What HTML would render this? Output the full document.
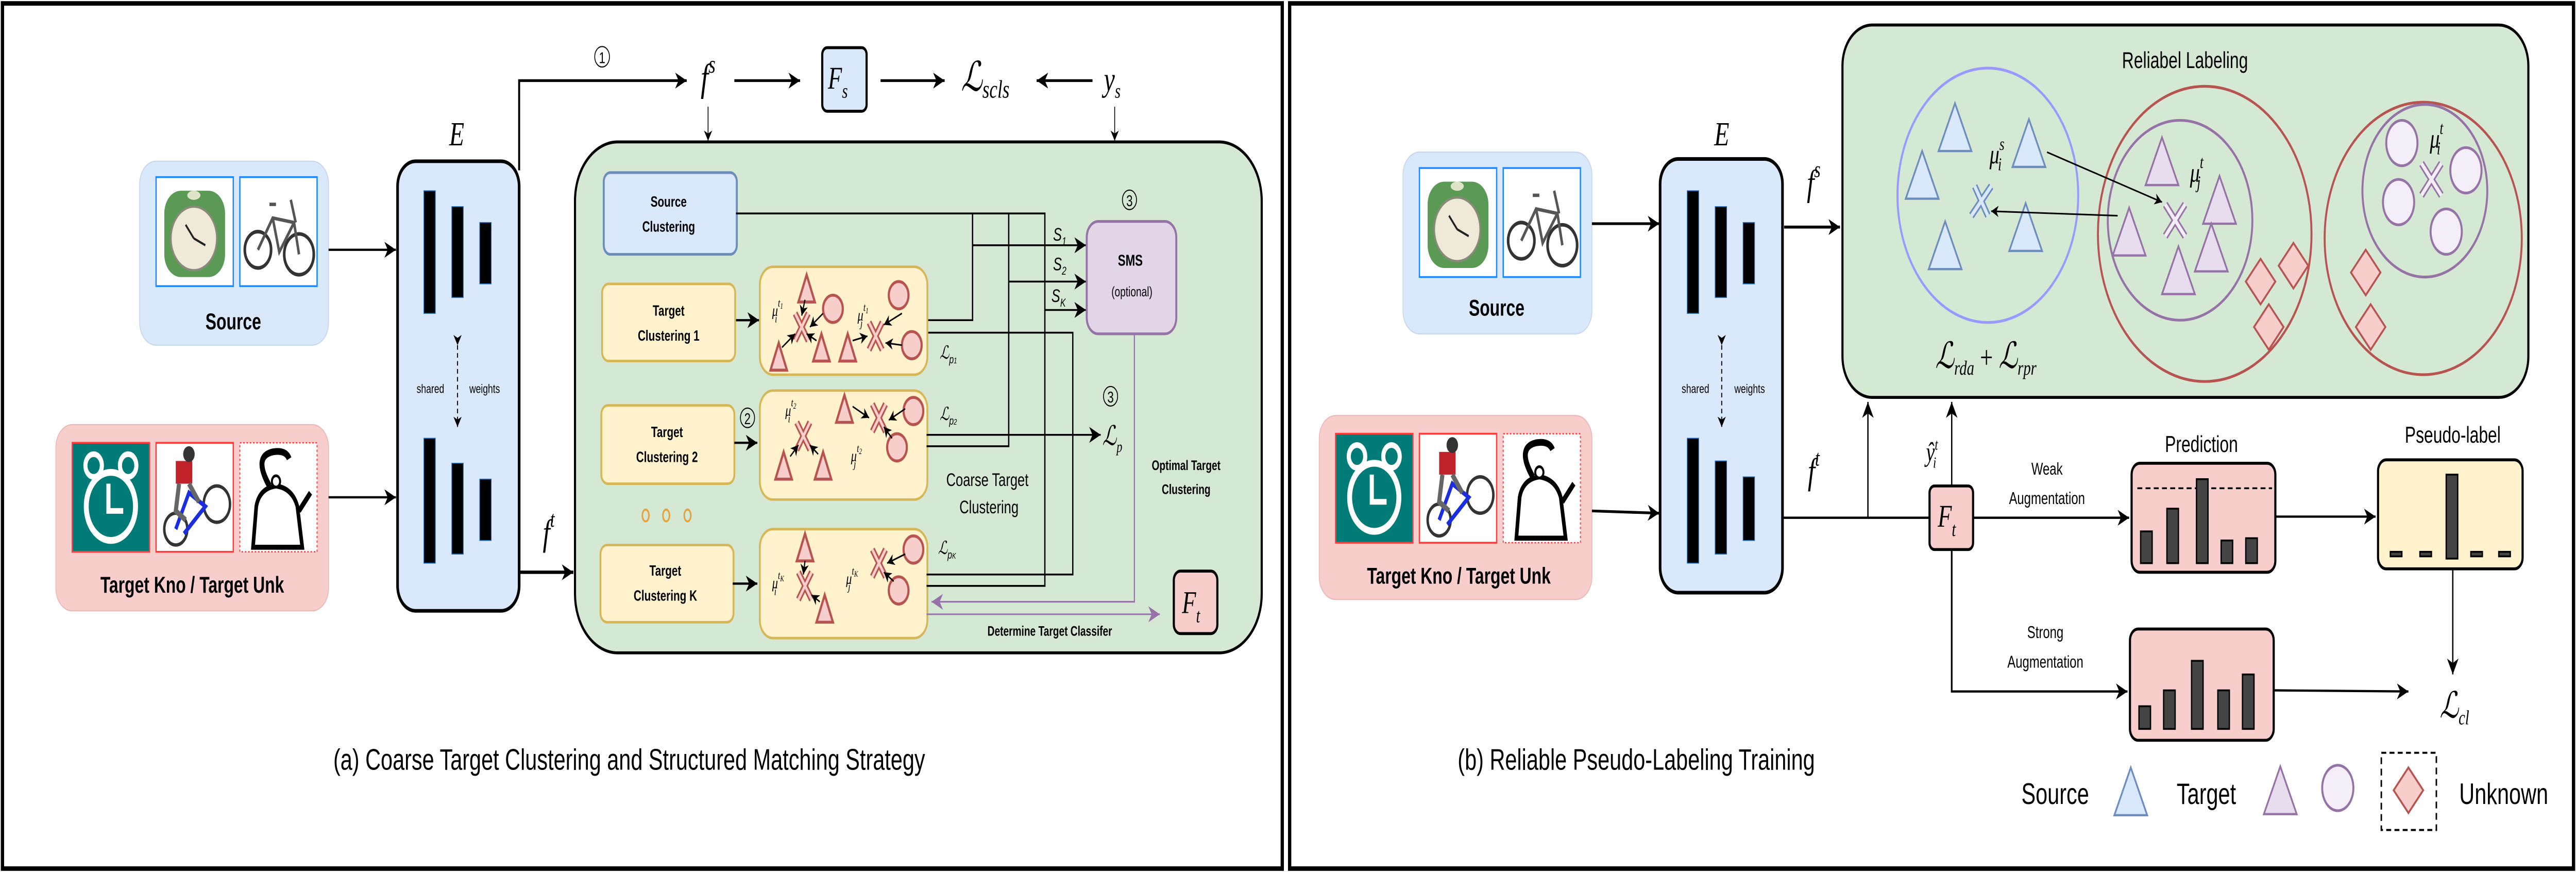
<!DOCTYPE html>
<html><head><meta charset="utf-8"><style>
html,body{margin:0;padding:0;background:#fff;width:100vw;height:100vh;overflow:hidden;}
svg{display:block;position:absolute;left:0;top:0;width:100vw;height:100vh;}
text{font-family:"Liberation Sans",sans-serif;}
.m{font-family:"Liberation Serif",serif;font-style:italic;}
</style></head><body>
<svg viewBox="0 0 1568 384" preserveAspectRatio="none" xmlns="http://www.w3.org/2000/svg">
<defs>
<marker id="a" markerUnits="userSpaceOnUse" markerWidth="8" markerHeight="8" refX="7" refY="4" orient="auto"><path d="M0,0.5 L7,4 L0,7.5 L2,4 Z" fill="#000"/></marker>
<marker id="as" markerUnits="userSpaceOnUse" markerWidth="5" markerHeight="5" refX="4.5" refY="2.5" orient="auto"><path d="M0,0 L4.5,2.5 L0,5 L1.3,2.5 Z" fill="#000"/></marker>
<marker id="ap" markerUnits="userSpaceOnUse" markerWidth="8" markerHeight="8" refX="7" refY="4" orient="auto"><path d="M0,0.5 L7,4 L0,7.5 L2,4 Z" fill="#9673a6"/></marker>
<g id="tri"><path d="M-5,6 L0,-6 L5,6 Z" fill="#f8cecc" stroke="#b85450" stroke-width="1.3"/></g>
<g id="cir"><circle r="6" fill="#f8cecc" stroke="#b85450" stroke-width="1.3"/></g>
<g id="xx"><path d="M-4,-6 L4,6 M4,-6 L-4,6" stroke="#b85450" stroke-width="3.2"/><path d="M-4,-6 L4,6 M4,-6 L-4,6" stroke="#f8cecc" stroke-width="1.4"/></g>
<g id="btri"><path d="M-10,10.5 L0,-10.5 L10,10.5 Z" fill="#dae8fc" stroke="#6c8ebf" stroke-width="1"/></g>
<g id="ptri"><path d="M-10,10.5 L0,-10.5 L10,10.5 Z" fill="#e8dcef" stroke="#9673a6" stroke-width="1"/></g>
<g id="pcir"><ellipse rx="9.5" ry="10" fill="#f3eef7" stroke="#9673a6" stroke-width="1.2"/></g>
<g id="dia"><path d="M0,-10 L9,0 L0,10 L-9,0 Z" fill="#f8cecc" stroke="#b85450" stroke-width="1"/></g>
<g id="clock"><rect x="0" y="0" width="47" height="48" fill="#fff" stroke="#1e88ff" stroke-width="0.8"/><rect x="5" y="6" width="37" height="38" rx="10" fill="#5a9a55"/><ellipse cx="23" cy="27" rx="14" ry="14" fill="#efe9d8" stroke="#8a8a7a" stroke-width="1"/><path d="M23,27 L18,21 M23,27 L30,30" stroke="#222" stroke-width="1"/><ellipse cx="23" cy="8" rx="4" ry="2" fill="#dfe3c8"/></g>
<g id="bike"><rect x="0" y="0" width="47" height="48" fill="#fff" stroke="#1e88ff" stroke-width="0.8"/><circle cx="11" cy="32" r="8" fill="none" stroke="#333" stroke-width="1.6"/><circle cx="36" cy="34" r="9" fill="none" stroke="#333" stroke-width="1.6"/><path d="M11,32 L20,18 L33,20 L36,34 M20,18 L24,33 L33,20 M18,12 L22,12 M31,10 L34,20" stroke="#555" stroke-width="1.5" fill="none"/></g>
<g id="tclock"><rect x="0" y="0" width="47" height="48" fill="#007b78" stroke="#ff3b3b" stroke-width="0.8"/><circle cx="23.5" cy="28" r="15" fill="none" stroke="#fff" stroke-width="3"/><circle cx="13" cy="10" r="5" fill="none" stroke="#fff" stroke-width="2.5"/><circle cx="34" cy="10" r="5" fill="none" stroke="#fff" stroke-width="2.5"/><path d="M22,18 L22,30 L31,30" stroke="#fff" stroke-width="2.5" fill="none"/></g>
<g id="biker"><rect x="0" y="0" width="47" height="48" fill="#fff" stroke="#ff3b3b" stroke-width="0.8"/><circle cx="12" cy="38" r="7" fill="none" stroke="#333" stroke-width="1.5"/><circle cx="37" cy="27" r="8" fill="none" stroke="#333" stroke-width="1.5"/><path d="M12,38 L20,22 L30,28 L17,40" stroke="#1a2de0" stroke-width="2" fill="none"/><rect x="12" y="8" width="10" height="10" fill="#c0222a"/><circle cx="20" cy="5" r="3.5" fill="#333"/><path d="M14,18 L12,30 L18,34 M20,18 L26,26" stroke="#666" stroke-width="2.5" fill="none"/></g>
<g id="kettle"><rect x="0" y="0" width="47" height="48" fill="#fff" stroke="#ff3b3b" stroke-width="0.6" stroke-dasharray="1,1"/><path d="M8,46 L10,28 Q12,20 22,19 Q32,20 35,28 L38,46 Z" fill="#fff" stroke="#000" stroke-width="2.2"/><path d="M18,19 Q8,6 20,4 Q28,3 30,7" fill="none" stroke="#000" stroke-width="3"/><path d="M36,30 L43,22" stroke="#000" stroke-width="2.5"/><circle cx="22" cy="17" r="2.5" fill="#fff" stroke="#000" stroke-width="1.2"/></g>
</defs>
<rect x="0" y="0" width="1568" height="384" fill="#fff"/>
<rect x="1.5" y="1.5" width="779" height="381" fill="none" stroke="#000" stroke-width="2"/>
<rect x="785" y="1.5" width="781.5" height="381" fill="none" stroke="#000" stroke-width="2"/>

<!-- ============ LEFT ============ -->
<rect x="85" y="71" width="115" height="81" rx="10" fill="#dae8fc" stroke="#c5d6ee" stroke-width="0.5"/>
<use href="#clock" x="95" y="78"/><use href="#bike" x="146" y="78"/>
<text x="142" y="145" font-size="10" font-weight="bold" text-anchor="middle">Source</text>
<rect x="34" y="187" width="166" height="82" rx="10" fill="#f8cecc" stroke="#ecb8b5" stroke-width="0.5"/>
<use href="#tclock" x="44" y="195"/><use href="#biker" x="95" y="195"/><use href="#kettle" x="146" y="195"/>
<text x="117" y="261" font-size="10" font-weight="bold" text-anchor="middle">Target Kno / Target Unk</text>
<line x1="200" y1="110" x2="241" y2="110" stroke="#000" stroke-width="1" marker-end="url(#a)"/>
<line x1="200" y1="219" x2="241" y2="219" stroke="#000" stroke-width="1" marker-end="url(#a)"/>
<rect x="242" y="71" width="74" height="198" rx="11" fill="#dae8fc" stroke="#000" stroke-width="1.6"/>
<text x="278" y="64" class="m" font-size="15" text-anchor="middle">E</text>
<g fill="#000" stroke="#1e6fbf" stroke-width="0.4"><rect x="258" y="84" width="7" height="54"/><rect x="275" y="91" width="7" height="40"/><rect x="292" y="98" width="7" height="27"/><rect x="258" y="193" width="7" height="55"/><rect x="275" y="204" width="7" height="40"/><rect x="292" y="211" width="7" height="27"/></g>
<line x1="278.5" y1="152" x2="278.5" y2="188" stroke="#000" stroke-width="0.6" stroke-dasharray="2,1.5" marker-start="url(#as)" marker-end="url(#as)"/>
<text x="262" y="173" font-size="5.5" text-anchor="middle">shared</text>
<text x="295" y="173" font-size="5.5" text-anchor="middle">weights</text>
<path d="M316,75 L316,35.5 L418,35.5" fill="none" stroke="#000" stroke-width="1.2" marker-end="url(#a)"/>
<circle cx="366.5" cy="25" r="4.5" fill="none" stroke="#000" stroke-width="0.5"/><text x="366.5" y="27.8" font-size="7" text-anchor="middle">1</text>
<text x="431" y="40" class="m" font-size="17" text-anchor="middle">f<tspan dy="-8" font-size="11">s</tspan></text>
<line x1="447" y1="35.5" x2="487" y2="35.5" stroke="#000" stroke-width="1.2" marker-end="url(#a)"/>
<rect x="500.5" y="21" width="27" height="28" rx="3" fill="#dae8fc" stroke="#000" stroke-width="1.3"/>
<text x="510" y="39" class="m" font-size="14" text-anchor="middle">F<tspan dy="4" font-size="9">s</tspan></text>
<line x1="536" y1="35.5" x2="575" y2="35.5" stroke="#000" stroke-width="1.2" marker-end="url(#a)"/>
<text x="585" y="40" font-family="DejaVu Serif, serif" font-style="italic" font-size="18">ℒ<tspan dy="3" font-size="11" font-family="Liberation Serif, serif">scls</tspan></text>
<line x1="665" y1="35.5" x2="631" y2="35.5" stroke="#000" stroke-width="1.2" marker-end="url(#a)"/>
<text x="677" y="40" class="m" font-size="15" text-anchor="middle">y<tspan dy="3" font-size="9">s</tspan></text>
<line x1="431" y1="47" x2="431" y2="62" stroke="#000" stroke-width="0.5" marker-end="url(#as)"/>
<line x1="678.5" y1="47" x2="678.5" y2="62" stroke="#000" stroke-width="0.5" marker-end="url(#as)"/>
<text x="334" y="240" class="m" font-size="16" text-anchor="middle">f<tspan dy="-8" font-size="10">t</tspan></text>
<line x1="316" y1="252" x2="349" y2="252" stroke="#000" stroke-width="1.5" marker-end="url(#a)"/>
<rect x="350" y="62.5" width="418" height="225" rx="26" fill="#d5e8d4" stroke="#000" stroke-width="1.3"/>
<rect x="367.5" y="76" width="81" height="36" rx="4" fill="#dae8fc" stroke="#6c8ebf" stroke-width="1.2"/>
<text x="407" y="91" font-size="6.5" text-anchor="middle" font-weight="bold" fill="#000">Source</text>
<text x="407" y="102" font-size="6.5" text-anchor="middle" font-weight="bold">Clustering</text>
<g fill="#fff2cc" stroke="#d6b656" stroke-width="1.1">
<rect x="366.5" y="125" width="81" height="34" rx="4"/><rect x="366" y="178.5" width="81" height="34.5" rx="4"/><rect x="365.5" y="240" width="81" height="34" rx="4"/>
<rect x="462.5" y="117.5" width="102" height="47.5" rx="8"/><rect x="462.5" y="172" width="102" height="48" rx="8"/><rect x="462.5" y="233" width="102" height="48" rx="8"/>
</g>
<g font-size="6.5" text-anchor="middle" font-weight="bold">
<text x="407" y="139">Target</text><text x="407" y="150">Clustering 1</text>
<text x="406" y="192.5">Target</text><text x="406" y="203.5">Clustering 2</text>
<text x="405" y="253.5">Target</text><text x="405" y="264.5">Clustering K</text>
</g>
<g fill="none" stroke="#e6a23c" stroke-width="0.9"><ellipse cx="393" cy="227" rx="2" ry="2.6"/><ellipse cx="405.5" cy="227" rx="2" ry="2.6"/><ellipse cx="418.5" cy="227" rx="2" ry="2.6"/></g>
<g stroke="#000" stroke-width="1" marker-end="url(#a)">
<line x1="448" y1="141" x2="462" y2="141"/><line x1="447" y1="195" x2="461" y2="195"/><line x1="446" y1="257" x2="461" y2="257"/>
</g>
<circle cx="455" cy="184" r="4.3" fill="none" stroke="#000" stroke-width="0.5"/><text x="455" y="186.8" font-size="7" text-anchor="middle">2</text>
<use href="#tri" x="491" y="127"/><use href="#tri" x="474" y="157"/><use href="#tri" x="500" y="153"/><use href="#tri" x="516" y="153"/>
<use href="#cir" x="507" y="136"/><use href="#cir" x="547" y="130"/><use href="#cir" x="555" y="152"/>
<use href="#xx" x="488" y="144"/><use href="#xx" x="533" y="148"/>
<g stroke="#000" stroke-width="0.7" marker-end="url(#as)"><line x1="490" y1="132" x2="488" y2="139"/><line x1="501" y1="138" x2="493" y2="144"/><line x1="476" y1="153" x2="484" y2="147"/><line x1="497" y1="150" x2="491" y2="147"/><line x1="519" y1="150" x2="528" y2="148"/><line x1="549" y1="138" x2="538" y2="143"/><line x1="549" y1="152" x2="539" y2="151"/></g>
<text x="470" y="139" class="m" font-size="7">μ<tspan font-size="5" dy="-4">t</tspan><tspan font-size="3.5" dy="1">1</tspan><tspan font-size="5" dx="-5" dy="6">i</tspan></text>
<text x="522" y="141" class="m" font-size="7">μ<tspan font-size="5" dy="-4">t</tspan><tspan font-size="3.5" dy="1">1</tspan><tspan font-size="5" dx="-5" dy="6">j</tspan></text>
<use href="#tri" x="514" y="180"/><use href="#tri" x="477" y="205"/><use href="#tri" x="501" y="205"/>
<use href="#cir" x="556" y="181"/><use href="#cir" x="546" y="197"/>
<use href="#xx" x="489" y="192"/><use href="#xx" x="535" y="184"/>
<g stroke="#000" stroke-width="0.7" marker-end="url(#as)"><line x1="519" y1="179" x2="529" y2="184"/><line x1="551" y1="180" x2="541" y2="185"/><line x1="543" y1="193" x2="538" y2="188"/><line x1="481" y1="201" x2="486" y2="196"/><line x1="498" y1="200" x2="493" y2="196"/></g>
<text x="478" y="183" class="m" font-size="7">μ<tspan font-size="5" dy="-4">t</tspan><tspan font-size="3.5" dy="1">2</tspan><tspan font-size="5" dx="-5" dy="6">i</tspan></text>
<text x="518" y="203" class="m" font-size="7">μ<tspan font-size="5" dy="-4">t</tspan><tspan font-size="3.5" dy="1">2</tspan><tspan font-size="5" dx="-5" dy="6">j</tspan></text>
<use href="#tri" x="490" y="241"/><use href="#tri" x="502" y="268"/>
<use href="#cir" x="556" y="242"/><use href="#cir" x="547" y="260"/>
<use href="#xx" x="490" y="258"/><use href="#xx" x="535" y="248"/>
<g stroke="#000" stroke-width="0.7" marker-end="url(#as)"><line x1="490" y1="247" x2="489" y2="253"/><line x1="499" y1="265" x2="494" y2="262"/><line x1="551" y1="244" x2="540" y2="248"/><line x1="544" y1="256" x2="538" y2="252"/></g>
<text x="470" y="259" class="m" font-size="7">μ<tspan font-size="5" dy="-4">t</tspan><tspan font-size="3.5" dy="1">K</tspan><tspan font-size="5" dx="-6" dy="6">i</tspan></text>
<text x="515" y="257" class="m" font-size="7">μ<tspan font-size="5" dy="-4">t</tspan><tspan font-size="3.5" dy="1">K</tspan><tspan font-size="5" dx="-6" dy="6">j</tspan></text>
<g fill="none" stroke="#000" stroke-width="0.8">
<path d="M448,94 L636,94 L636,258 L564,258"/>
<path d="M565,141 L592,141 L592,94"/>
<path d="M565,146.5 L653,146.5 L653,253 L564,253"/>
<path d="M564,196.5 L614,196.5 L614,94"/>
</g>
<g stroke="#000" stroke-width="0.8" marker-end="url(#a)">
<line x1="592" y1="108" x2="661" y2="108"/><line x1="614" y1="124" x2="661" y2="124"/><line x1="636" y1="136.5" x2="661" y2="136.5"/>
<line x1="564" y1="191.5" x2="670" y2="191.5"/>
</g>
<g class="m" font-size="8"><text x="641" y="106">S<tspan font-size="5" dy="2">1</tspan></text><text x="641" y="119">S<tspan font-size="5" dy="2">2</tspan></text><text x="640" y="133">S<tspan font-size="5" dy="2">K</tspan></text></g>
<rect x="661.5" y="97.5" width="54.5" height="49.5" rx="7" fill="#e1d5e7" stroke="#9673a6" stroke-width="1.2"/>
<text x="688" y="117" font-size="7" font-weight="bold" text-anchor="middle">SMS</text>
<text x="689" y="130.5" font-size="6" text-anchor="middle">(optional)</text>
<circle cx="687.5" cy="88" r="4.3" fill="none" stroke="#000" stroke-width="0.5"/><text x="687.5" y="90.8" font-size="7" text-anchor="middle">3</text>
<circle cx="676" cy="174.5" r="4.3" fill="none" stroke="#000" stroke-width="0.5"/><text x="676" y="177.3" font-size="7" text-anchor="middle">3</text>
<text x="671" y="196" font-family="DejaVu Serif, serif" font-style="italic" font-size="12">ℒ<tspan dy="3" font-size="7" font-family="Liberation Serif, serif">p</tspan></text>
<g font-family="DejaVu Serif, serif" font-style="italic" font-size="8">
<text x="572" y="158">ℒ<tspan font-size="5" dy="2">p<tspan font-size="3.5">1</tspan></tspan></text>
<text x="572" y="185">ℒ<tspan font-size="5" dy="2">p<tspan font-size="3.5">2</tspan></tspan></text>
<text x="571" y="244">ℒ<tspan font-size="5" dy="2">p<tspan font-size="3.5">K</tspan></tspan></text>
</g>
<text x="601" y="214" font-size="8" text-anchor="middle">Coarse Target</text>
<text x="602" y="226" font-size="8" text-anchor="middle">Clustering</text>
<text x="722" y="207" font-size="6" text-anchor="middle" font-weight="bold">Optimal Target</text>
<text x="722" y="217.5" font-size="6" text-anchor="middle" font-weight="bold">Clustering</text>
<path d="M690.5,147 L690.5,265 L567,265" fill="none" stroke="#9673a6" stroke-width="0.7" marker-end="url(#ap)"/>
<line x1="564" y1="270.5" x2="706" y2="270.5" stroke="#9673a6" stroke-width="0.7" marker-end="url(#ap)"/>
<text x="639" y="280" font-size="6" text-anchor="middle" font-weight="bold">Determine Target Classifer</text>
<rect x="714.5" y="251.5" width="26.5" height="27.5" rx="4" fill="#f8cecc" stroke="#000" stroke-width="1.3"/>
<text x="725" y="270" class="m" font-size="14" text-anchor="middle">F<tspan dy="4" font-size="9">t</tspan></text>
<text x="383" y="339" font-size="13" text-anchor="middle">(a) Coarse Target Clustering and Structured Matching Strategy</text>

<!-- ============ RIGHT ============ -->
<rect x="854" y="67" width="115" height="80" rx="10" fill="#dae8fc" stroke="#c5d6ee" stroke-width="0.5"/>
<use href="#clock" x="864" y="74"/><use href="#bike" x="915" y="74"/>
<text x="911" y="139" font-size="10" font-weight="bold" text-anchor="middle">Source</text>
<rect x="803" y="183" width="166" height="81" rx="10" fill="#f8cecc" stroke="#ecb8b5" stroke-width="0.5"/>
<use href="#tclock" x="813" y="191"/><use href="#biker" x="864" y="191"/><use href="#kettle" x="915" y="191"/>
<text x="888" y="257" font-size="10" font-weight="bold" text-anchor="middle">Target Kno / Target Unk</text>
<line x1="969" y1="98.5" x2="1010" y2="98.5" stroke="#000" stroke-width="1.2" marker-end="url(#a)"/>
<line x1="969" y1="225" x2="1010" y2="226" stroke="#000" stroke-width="1.2" marker-end="url(#a)"/>
<rect x="1010.5" y="70" width="74.5" height="191" rx="11" fill="#dae8fc" stroke="#000" stroke-width="1.6"/>
<text x="1048" y="64" class="m" font-size="15" text-anchor="middle">E</text>
<g fill="#000" stroke="#1e6fbf" stroke-width="0.4"><rect x="1027" y="84" width="7" height="54"/><rect x="1044" y="91" width="7" height="40"/><rect x="1061" y="98" width="7" height="27"/><rect x="1027" y="193" width="7" height="55"/><rect x="1044" y="203" width="7" height="41"/><rect x="1061" y="210" width="7" height="28"/></g>
<line x1="1048" y1="152" x2="1048" y2="188" stroke="#000" stroke-width="0.6" stroke-dasharray="2,1.5" marker-start="url(#as)" marker-end="url(#as)"/>
<text x="1032" y="173" font-size="5.5" text-anchor="middle">shared</text>
<text x="1065" y="173" font-size="5.5" text-anchor="middle">weights</text>
<text x="1104" y="86" class="m" font-size="16" text-anchor="middle">f<tspan dy="-8" font-size="10">s</tspan></text>
<line x1="1086" y1="100" x2="1120" y2="100" stroke="#000" stroke-width="1.3" marker-end="url(#a)"/>
<text x="1104" y="213" class="m" font-size="16" text-anchor="middle">f<tspan dy="-8" font-size="10">t</tspan></text>
<line x1="1085" y1="228" x2="1175" y2="228" stroke="#000" stroke-width="1"/>
<line x1="1137" y1="228" x2="1137" y2="177" stroke="#000" stroke-width="0.8" marker-end="url(#a)"/>
<line x1="1188" y1="214" x2="1188" y2="177" stroke="#000" stroke-width="0.8" marker-end="url(#a)"/>
<text x="1176" y="203" class="m" font-size="12" text-anchor="middle">ŷ<tspan dy="-5" font-size="7">t</tspan><tspan dx="-3" dy="8" font-size="7">i</tspan></text>
<rect x="1121.5" y="11" width="417.5" height="164" rx="18" fill="#d5e8d4" stroke="#000" stroke-width="1.3"/>
<text x="1330" y="30" font-size="10" text-anchor="middle">Reliabel Labeling</text>
<ellipse cx="1210" cy="86" rx="55" ry="56" fill="none" stroke="#9999ff" stroke-width="1.2"/>
<circle cx="1342" cy="103" r="65" fill="none" stroke="#b85450" stroke-width="1.2"/>
<circle cx="1327" cy="97" r="44" fill="none" stroke="#9673a6" stroke-width="1.2"/>
<circle cx="1475" cy="105" r="60" fill="none" stroke="#b85450" stroke-width="1.2"/>
<circle cx="1476" cy="84" r="38" fill="none" stroke="#9673a6" stroke-width="1.2"/>
<use href="#btri" x="1190" y="56"/><use href="#btri" x="1235" y="63"/><use href="#btri" x="1170" y="77"/><use href="#btri" x="1184" y="108"/><use href="#btri" x="1233" y="100"/>
<path d="M1202,82 L1210,95 M1212,82 L1200,95" stroke="#6c8ebf" stroke-width="3.5"/><path d="M1202,82 L1210,95 M1212,82 L1200,95" stroke="#dae8fc" stroke-width="1.8"/>
<text x="1211" y="72" class="m" font-size="12">μ<tspan font-size="8" dy="-6">s</tspan><tspan font-size="8" dx="-4" dy="9">i</tspan></text>
<use href="#ptri" x="1316" y="71"/><use href="#ptri" x="1351" y="88"/><use href="#ptri" x="1296" y="102"/><use href="#ptri" x="1346" y="109"/><use href="#ptri" x="1326" y="119"/>
<path d="M1318,90 L1330,104 M1330,90 L1318,104" stroke="#9673a6" stroke-width="3.5"/><path d="M1318,90 L1330,104 M1330,90 L1318,104" stroke="#f3eef7" stroke-width="1.8"/>
<text x="1333" y="80" class="m" font-size="12">μ<tspan font-size="8" dy="-6">t</tspan><tspan font-size="8" dx="-4" dy="9">j</tspan></text>
<line x1="1246" y1="67" x2="1316" y2="89" stroke="#000" stroke-width="0.7" marker-end="url(#as)"/>
<line x1="1289" y1="95" x2="1212" y2="93" stroke="#000" stroke-width="0.7" marker-end="url(#as)"/>
<use href="#dia" x="1376" y="124"/><use href="#dia" x="1396" y="117"/><use href="#dia" x="1381" y="144"/>
<use href="#pcir" x="1462" y="63"/><use href="#pcir" x="1460" y="89"/><use href="#pcir" x="1501" y="75"/><use href="#pcir" x="1489" y="102"/>
<path d="M1474,72 L1486,86 M1486,72 L1474,86" stroke="#9673a6" stroke-width="3.5"/><path d="M1474,72 L1486,86 M1486,72 L1474,86" stroke="#f3eef7" stroke-width="1.8"/>
<text x="1479" y="65" class="m" font-size="12">μ<tspan font-size="8" dy="-6">t</tspan><tspan font-size="8" dx="-4" dy="9">i</tspan></text>
<use href="#dia" x="1440" y="120"/><use href="#dia" x="1443" y="144"/>
<text x="1178" y="162" font-family="DejaVu Serif, serif" font-style="italic" font-size="16">ℒ<tspan dy="3" font-size="9" font-family="Liberation Serif, serif">rda</tspan><tspan dy="-3" font-style="normal" font-size="14" font-family="Liberation Serif, serif"> + </tspan>ℒ<tspan dy="3" font-size="9" font-family="Liberation Serif, serif">rpr</tspan></text>
<rect x="1174.5" y="214" width="26.5" height="28" rx="3" fill="#f8cecc" stroke="#000" stroke-width="1.3"/>
<text x="1185" y="232" class="m" font-size="14" text-anchor="middle">F<tspan dy="4" font-size="9">t</tspan></text>
<line x1="1201" y1="228" x2="1296" y2="228" stroke="#000" stroke-width="1" marker-end="url(#a)"/>
<text x="1246" y="209" font-size="7.5" text-anchor="middle">Weak</text>
<text x="1246" y="222" font-size="7.5" text-anchor="middle">Augmentation</text>
<path d="M1188,242 L1188,304.5 L1295,304.5" fill="none" stroke="#000" stroke-width="1" marker-end="url(#a)"/>
<text x="1245" y="281" font-size="7.5" text-anchor="middle">Strong</text>
<text x="1245" y="294" font-size="7.5" text-anchor="middle">Augmentation</text>
<rect x="1297.5" y="204" width="87.5" height="48" rx="5" fill="#f8cecc" stroke="#000" stroke-width="1.3"/>
<text x="1340" y="199" font-size="10" text-anchor="middle">Prediction</text>
<line x1="1301" y1="215" x2="1383" y2="215" stroke="#000" stroke-width="0.8" stroke-dasharray="3,2"/>
<g fill="#444" stroke="#000" stroke-width="0.8"><rect x="1303" y="234" width="7" height="14"/><rect x="1319" y="224" width="7" height="24"/><rect x="1337" y="211" width="7" height="37"/><rect x="1352" y="238" width="7" height="10"/><rect x="1367" y="237" width="7" height="11"/></g>
<line x1="1385" y1="227.5" x2="1446" y2="227.5" stroke="#000" stroke-width="1" marker-end="url(#a)"/>
<rect x="1447.5" y="202.5" width="88" height="48" rx="5" fill="#fff2cc" stroke="#000" stroke-width="1.3"/>
<text x="1493" y="195" font-size="10" text-anchor="middle">Pseudo-label</text>
<g fill="#444" stroke="#000" stroke-width="0.8"><rect x="1455" y="243" width="7" height="2"/><rect x="1473" y="243" width="7" height="2"/><rect x="1489" y="209" width="7" height="37"/><rect x="1504" y="243" width="7" height="2"/><rect x="1521" y="243" width="7" height="2"/></g>
<line x1="1493" y1="250" x2="1493" y2="297" stroke="#000" stroke-width="0.8" marker-end="url(#a)"/>
<rect x="1296.5" y="277" width="87.5" height="49" rx="5" fill="#f8cecc" stroke="#000" stroke-width="1.3"/>
<g fill="#444" stroke="#000" stroke-width="0.8"><rect x="1302" y="311" width="7" height="10"/><rect x="1317" y="304" width="7" height="17"/><rect x="1334" y="291" width="7" height="30"/><rect x="1350" y="304" width="7" height="17"/><rect x="1365" y="297" width="7" height="24"/></g>
<line x1="1384" y1="304" x2="1466" y2="304.5" stroke="#000" stroke-width="1" marker-end="url(#a)"/>
<text x="1485" y="316" font-family="DejaVu Serif, serif" font-style="italic" font-size="16">ℒ<tspan dy="3" font-size="9" font-family="Liberation Serif, serif">cl</tspan></text>
<text x="996" y="339" font-size="13" text-anchor="middle">(b) Reliable Pseudo-Labeling Training</text>
<text x="1251" y="354" font-size="13" text-anchor="middle">Source</text>
<use href="#btri" x="1297" y="348.5"/>
<text x="1343" y="354" font-size="13" text-anchor="middle">Target</text>
<use href="#ptri" x="1388" y="348"/>
<use href="#pcir" x="1423" y="347"/>
<rect x="1449.5" y="331.5" width="33.5" height="34" fill="none" stroke="#000" stroke-width="0.9" stroke-dasharray="3,2"/>
<use href="#dia" x="1466" y="348"/>
<text x="1524" y="354" font-size="13" text-anchor="middle">Unknown</text>
</svg>
</body></html>
